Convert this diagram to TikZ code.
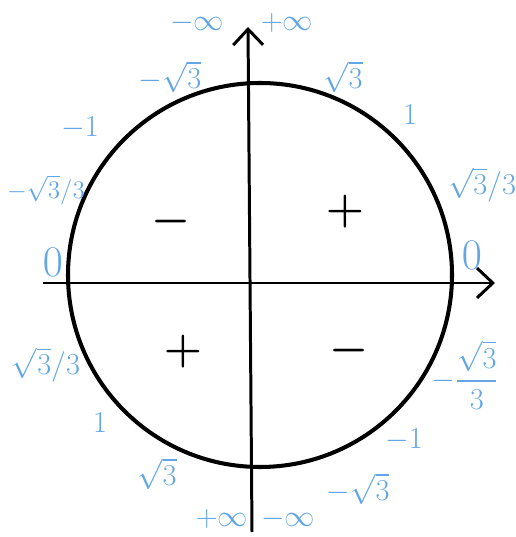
\documentclass[tikz,border=0pt]{standalone}
\usepackage{amsmath}
\usepackage{tikz}
\usetikzlibrary{arrows.meta}
\definecolor{tanblue}{RGB}{98,166,230}

\begin{document}
\begin{tikzpicture}[x=0.02cm, y=0.02cm,
    lbl/.style={text=tanblue, inner sep=0pt, font=\fontsize{19}{22}\selectfont},
    sgn/.style={inner sep=0pt, font=\fontsize{36}{40}\selectfont\boldmath},
    axis/.style={line width=1.7pt, -{Straight Barb[length=9pt, width=17pt, line width=1.7pt]}}]

    \useasboundingbox (0,0) rectangle (516,537);

    % circle and axes
    \draw[line width=2.3pt] (260,262) circle (192);
    \coordinate (xl) at (43,254);
    \coordinate (xr) at (495,254);
    \coordinate (yb) at (252,5);
    \coordinate (yt) at (248,510);
    \draw[axis] (xl) -- (xr);
    \draw[axis] (yb) -- (yt);

    % signs of the quadrants
    \node[sgn] (q1) at (345,325) {$+$};
    \node[sgn] (q2) at (171,315) {$-$};
    \node[sgn] (q3) at (183,185) {$+$};
    \node[sgn] (q4) at (349,186) {$-$};

    % values, upper half
    \node[lbl] (ninftop) at (197,514) {$-\infty$};
    \node[lbl] (pinftop) at (287,514) {$+\infty$};
    \node[lbl] (msqtop)  at (170,460) {$-\sqrt{3}$};
    \node[lbl] (sqtop)   at (343,460) {$\sqrt{3}$};
    \node[lbl] (oneup)   at (410,422) {$1$};
    \node[lbl] (moneup)  at (80,409)  {$-1$};
    \node[lbl, font=\fontsize{15}{18}\selectfont] (msqfrl) at (46,347) {$-\sqrt{3}/3$};
    \node[lbl] (sqfrr)   at (482,352) {$\sqrt{3}/3$};
    \node[lbl, font=\fontsize{26}{30}\selectfont] (zerol) at (53,275) {$0$};
    \node[lbl, font=\fontsize{26}{30}\selectfont] (zeror) at (472,282) {$0$};

    % values, lower half
    \node[lbl] (sqfrl)   at (46,172)  {$\sqrt{3}/3$};
    \node[lbl] (onelo)   at (100,114) {$1$};
    \node[lbl] (sqlo)    at (157,63)  {$\sqrt{3}$};
    \node[lbl] (pinflo)  at (222,18)  {$+\infty$};
    \node[lbl] (ninflo)  at (288,18)  {$-\infty$};
    \node[lbl] (msqfrr)  at (465,162) {$-\dfrac{\sqrt{3}}{3}$};
    \node[lbl] (monelo)  at (404,97)  {$-1$};
    \node[lbl] (msqlo)   at (358,48)  {$-\sqrt{3}$};

\end{tikzpicture}
\end{document}
